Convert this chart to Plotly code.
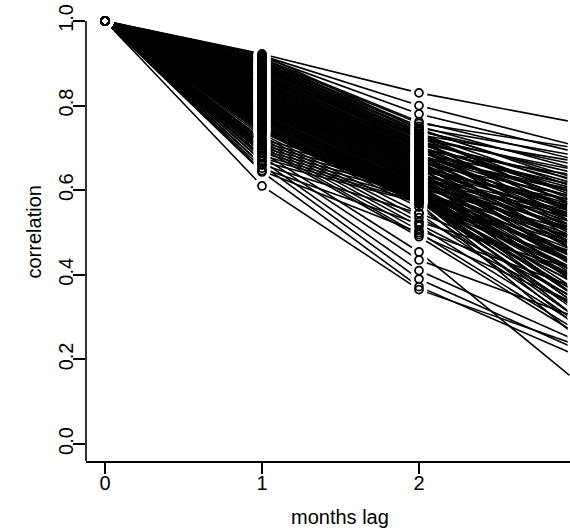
import plotly.graph_objects as go

lags = [0, 1, 2, 3]

lag1 = [0.922, 0.918, 0.915, 0.912, 0.909, 0.906, 0.903, 0.900, 0.897, 0.894, 0.891, 0.889, 0.886, 0.884, 0.881, 0.879,
        0.877, 0.874, 0.871, 0.869, 0.867, 0.864, 0.862, 0.859, 0.857, 0.855, 0.852, 0.850, 0.848, 0.845, 0.843, 0.841, 0.838, 0.836,
        0.834, 0.831, 0.829, 0.826, 0.824, 0.822, 0.819, 0.817, 0.815, 0.812, 0.810, 0.807, 0.805, 0.803, 0.800, 0.798, 0.796, 0.793, 0.791, 0.789,
        0.786, 0.784, 0.781, 0.779, 0.777, 0.774, 0.772, 0.770, 0.767, 0.765, 0.762, 0.760, 0.758, 0.755, 0.753, 0.750, 0.748, 0.745, 0.743, 0.740,
        0.738, 0.733, 0.728, 0.722, 0.716, 0.710, 0.704, 0.698,
        0.690, 0.680, 0.670, 0.660, 0.643, 0.610,
        0.719, 0.712, 0.706, 0.700, 0.694, 0.688, 0.682, 0.676, 0.668, 0.660, 0.652, 0.646,
        0.920, 0.913, 0.905, 0.898, 0.890, 0.882, 0.873, 0.866, 0.858, 0.851, 0.844, 0.837, 0.830, 0.823, 0.816,
        0.809, 0.802, 0.795, 0.788, 0.781, 0.774, 0.767, 0.760, 0.753, 0.746, 0.739, 0.895, 0.870, 0.846, 0.820]

lag2 = [0.830, 0.800, 0.780, 0.762, 0.758, 0.751, 0.747, 0.742, 0.739, 0.734, 0.731, 0.727, 0.724, 0.721, 0.717, 0.714,
        0.712, 0.709, 0.705, 0.702, 0.699, 0.696, 0.693, 0.690, 0.688, 0.685, 0.683, 0.680, 0.678, 0.675, 0.672, 0.670, 0.667, 0.665,
        0.662, 0.660, 0.657, 0.655, 0.652, 0.650, 0.647, 0.645, 0.642, 0.640, 0.637, 0.635, 0.632, 0.630, 0.627, 0.625, 0.622, 0.620, 0.617, 0.615,
        0.612, 0.610, 0.607, 0.605, 0.602, 0.600, 0.597, 0.595, 0.592, 0.590, 0.588, 0.585, 0.583, 0.580, 0.578, 0.576, 0.574, 0.572, 0.570, 0.568,
        0.560, 0.546, 0.535, 0.525, 0.515, 0.505, 0.495, 0.490,
        0.454, 0.435, 0.410, 0.390, 0.372, 0.365,
        0.630, 0.622, 0.612, 0.604, 0.596, 0.588, 0.580, 0.574, 0.571, 0.545, 0.520, 0.500,
        0.745, 0.735, 0.728, 0.722, 0.715, 0.705, 0.700, 0.690, 0.682, 0.676, 0.668, 0.660, 0.652, 0.645, 0.638,
        0.630, 0.622, 0.615, 0.608, 0.600, 0.594, 0.588, 0.582, 0.577, 0.573, 0.569, 0.700, 0.680, 0.655, 0.630]

lag3 = [0.760, 0.705, 0.690, 0.672, 0.700, 0.650, 0.682, 0.628, 0.660, 0.606, 0.668, 0.640, 0.585, 0.648, 0.615, 0.575,
        0.625, 0.592, 0.552, 0.603, 0.566, 0.635, 0.534, 0.582, 0.612, 0.545, 0.572, 0.505, 0.596, 0.556, 0.522, 0.563, 0.492, 0.584,
        0.532, 0.472, 0.553, 0.512, 0.455, 0.542, 0.498, 0.575, 0.436, 0.521, 0.481, 0.548, 0.418, 0.506, 0.462, 0.533, 0.402, 0.490, 0.445, 0.515,
        0.385, 0.472, 0.428, 0.502, 0.365, 0.456, 0.412, 0.488, 0.348, 0.440, 0.395, 0.470, 0.332, 0.425, 0.378, 0.452, 0.315, 0.408, 0.360, 0.432,
        0.300, 0.395, 0.345, 0.412, 0.285, 0.370, 0.330, 0.262,
        0.150, 0.300, 0.245, 0.225, 0.210, 0.235,
        0.480, 0.430, 0.500, 0.390, 0.445, 0.350, 0.410, 0.320, 0.380, 0.290, 0.330, 0.270,
        0.620, 0.560, 0.590, 0.520, 0.545, 0.480, 0.510, 0.455, 0.530, 0.470, 0.420, 0.500, 0.440, 0.395, 0.470,
        0.380, 0.425, 0.350, 0.405, 0.330, 0.385, 0.300, 0.360, 0.280, 0.340, 0.255, 0.610, 0.600, 0.560, 0.540]

y_ticks = [0.0, 0.2, 0.4, 0.6, 0.8, 1.0]
y_ticktext = ["0.0", "0.2", "0.4", "0.6", "0.8", "1.0"]
x_ticks = [0, 1, 2, 3]
x_ticktext = ["0", "1", "2", "3"]

FONT = "Liberation Sans, Arial, Helvetica, sans-serif"

xs, ys = [], []
for a, b, c in zip(lag1, lag2, lag3):
    xs += lags + [None]
    ys += [1.0, a, b, c, None]

px_, py_ = [], []
for a, b, c in zip(lag1, lag2, lag3):
    px_ += lags
    py_ += [1.0, a, b, c]

fig = go.Figure()
fig.add_trace(go.Scatter(x=xs, y=ys, mode="lines",
                         line=dict(color="black", width=1.6),
                         hoverinfo="skip", showlegend=False))
fig.add_trace(go.Scatter(x=px_, y=py_, mode="markers",
                         marker=dict(symbol="circle", size=17, color="white", line=dict(width=0)),
                         hoverinfo="skip", showlegend=False))
fig.add_trace(go.Scatter(x=px_, y=py_, mode="markers",
                         marker=dict(symbol="circle-open", size=8, color="black", line=dict(width=1.7, color="black")),
                         showlegend=False))

fig.update_layout(
    width=570, height=528,
    margin=dict(l=86, r=0, t=4, b=67),
    paper_bgcolor="white", plot_bgcolor="white",
    font=dict(family=FONT, size=20, color="black"),
    xaxis=dict(range=[-0.121, 2.962], tickvals=x_ticks, ticktext=x_ticktext,
               showgrid=False, zeroline=False, showline=True, linecolor="black", linewidth=1.6,
               ticks="outside", ticklen=11, tickwidth=1.6, tickcolor="black",
               ticklabelstandoff=-8,
               tickfont=dict(family=FONT, size=20, color="black")),
    yaxis=dict(range=[-0.04, 1.04], tickvals=y_ticks, ticktext=y_ticktext,
               showgrid=False, zeroline=False, showline=False,
               ticks="outside", ticklen=12, tickwidth=1.6, tickcolor="black",
               tickangle=-90, ticklabelstandoff=-8,
               tickfont=dict(family=FONT, size=20, color="black")),
    shapes=[dict(type="line", xref="paper", yref="y", x0=0, x1=0, y0=1.0, y1=-0.04,
                 line=dict(color="black", width=1.6))],
    annotations=[
        dict(text="months lag", xref="x", yref="paper", x=1.5, y=-0.1225,
             xanchor="center", yanchor="middle", showarrow=False,
             font=dict(family=FONT, size=20, color="black")),
        dict(text="correlation", xref="paper", yref="paper", x=-0.1095, y=0.5,
             xanchor="center", yanchor="middle", textangle=-90, showarrow=False,
             font=dict(family=FONT, size=20, color="black")),
    ],
)

fig.write_html("out.html", config={"displayModeBar": False},
               post_script="document.body.style.margin='0';document.body.style.padding='0';")
